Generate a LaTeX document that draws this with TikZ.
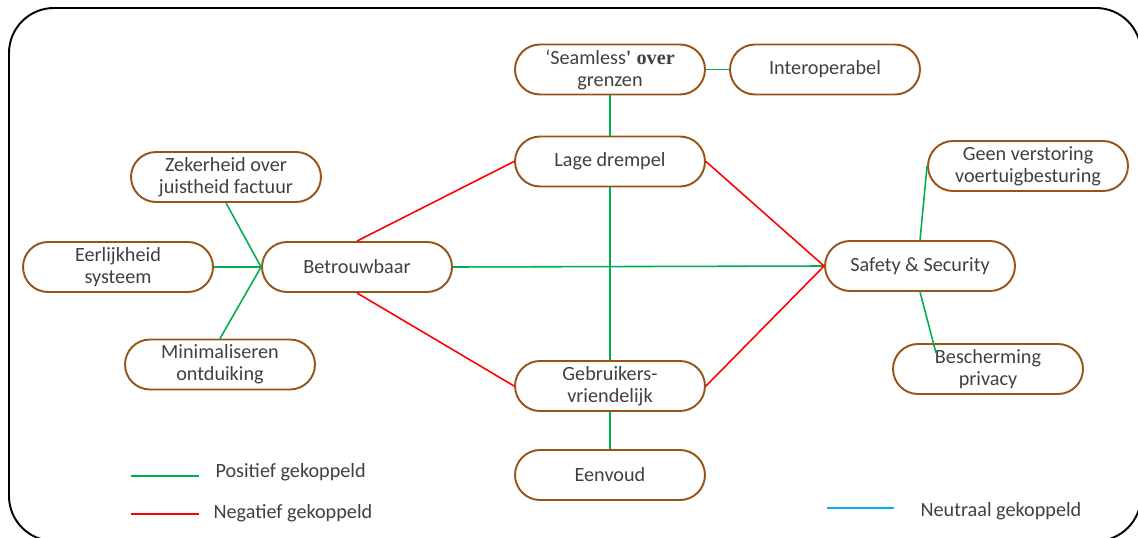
\documentclass[tikz,border=0pt]{standalone}
\usepackage{fontspec}
\setmainfont{Carlito}
\newfontfamily\boldserif{Liberation Serif}
\usetikzlibrary{positioning}
\definecolor{nodebrown}{RGB}{152,84,24}
\definecolor{posgreen}{RGB}{0,176,80}
\definecolor{negred}{RGB}{255,0,0}
\definecolor{neutblue}{RGB}{0,176,240}
\definecolor{txtgray}{RGB}{64,64,64}
\tikzset{posedge/.style={draw=posgreen, line width=0.9pt}}
\tikzset{negedge/.style={draw=negred, line width=0.9pt}}
\tikzset{neutedge/.style={draw=neutblue, line width=0.9pt}}

\begin{document}
\begin{tikzpicture}[x=0.02cm, y=-0.02cm, semithick]
\tikzstyle{aspect} = [rectangle, draw=nodebrown, line width=1.1pt, rounded corners=0.5cm, minimum width=3.8cm, minimum height=1cm, align=center, text=txtgray, inner sep=1pt, font=\fontsize{11.5}{12.5}\selectfont]
\tikzstyle{legend} = [anchor=west, text=txtgray, inner sep=0pt, font=\fontsize{11.5}{12.5}\selectfont]

\useasboundingbox (0,0) rectangle (1138,537);
\draw[line width=1.1pt, rounded corners=0.9cm] (9,8) rectangle (1141,541);

% midden
\node[aspect] (SEAM)  at (610,69.5) {`Seamless{\boldserif\bfseries' over}\\grenzen};
\node[aspect] (INTER) at (825,69.5) {Interoperabel};
\node[aspect] (LAGE)  at (610,161.5) {Lage drempel};
\node[aspect] (GEBR)  at (610,386) {Gebruikers-\\vriendelijk};
\node[aspect] (EENV)  at (610,475) {Eenvoud};

% links
\node[aspect] (BETR)  at (357,267) {Betrouwbaar};
\node[aspect] (ZEK)   at (226,177) {Zekerheid over\\juistheid factuur};
\node[aspect] (EERL)  at (118,267) {Eerlijkheid\\systeem};
\node[aspect] (MINI)  at (220,364.5) {Minimaliseren\\ontduiking};

% rechts
\node[aspect] (SAFE)  at (920,266) {Safety \& Security};
\node[aspect, minimum width=4cm] (GEEN) at (1028,166) {Geen verstoring\\voertuigbesturing};
\node[aspect] (BESCH) at (988,369) {Bescherming\\privacy};
\coordinate (BESCHIN) at (936,353);

% positief
\path[posedge] (SEAM.east) edge (INTER.west);
\path[posedge] (SEAM.south) edge (LAGE.north);
\path[posedge] (LAGE.south) edge (GEBR.north);
\path[posedge] (GEBR.south) edge (EENV.north);
\path[posedge] (BETR.east) edge (SAFE.west);
\foreach \n in {ZEK.south,EERL.east,MINI.north}
{
   \path[posedge] (\n) edge (BETR.west);
}
\path[posedge] (SAFE.north) edge (GEEN.west);
\path[posedge] (SAFE.south) edge (BESCHIN);

% negatief
\path[negedge] (BETR.north) edge (LAGE.west);
\path[negedge] (BETR.south) edge (GEBR.west);
\path[negedge] (LAGE.east) edge (SAFE.west);
\path[negedge] (GEBR.east) edge (SAFE.west);

% legenda
\coordinate (POSA) at (131,476);
\coordinate (POSB) at (199,476);
\coordinate (NEGA) at (131,514);
\coordinate (NEGB) at (199,514);
\coordinate (NEUA) at (827,508);
\coordinate (NEUB) at (894,508);
\draw[posedge] (POSA) -- (POSB);
\draw[negedge] (NEGA) -- (NEGB);
\draw[neutedge] (NEUA) -- (NEUB);
\node[legend] (POSTXT) at (215,472) {Positief gekoppeld};
\node[legend] (NEGTXT) at (213,513) {Negatief gekoppeld};
\node[legend] (NEUTXT) at (920,511) {Neutraal gekoppeld};

\end{tikzpicture}
\end{document}
